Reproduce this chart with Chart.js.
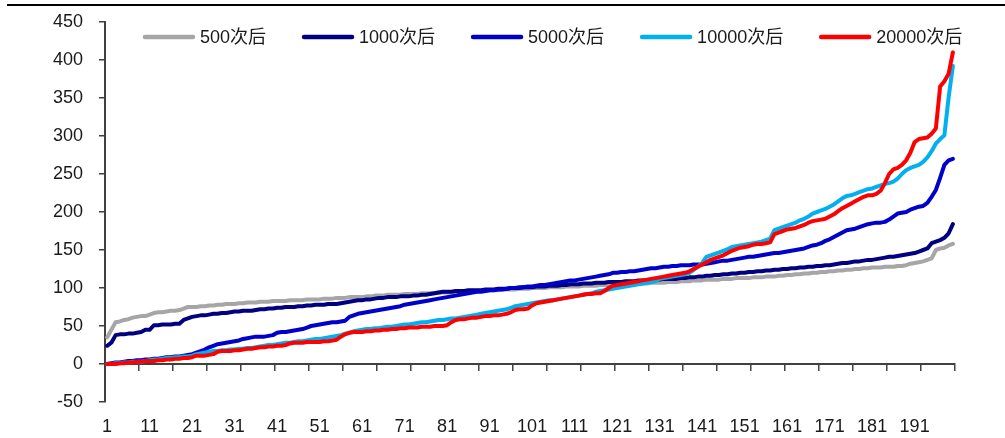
<!DOCTYPE html>
<html>
<head>
<meta charset="utf-8">
<script src="https://cdn.jsdelivr.net/npm/chart.js@4.4.1/dist/chart.umd.min.js"></script>
<style>
  html, body { margin: 0; padding: 0; background: #fff; }
  #wrap { position: relative; width: 1005px; height: 438px; }
  #topline { position: absolute; left: 7px; right: 0; top: 4px; height: 2px; background: #000; }
  canvas { display: block; }
</style>
</head>
<body>
<div id="wrap">
  <canvas id="chart" width="1005" height="438"></canvas>
  <div id="topline"></div>
</div>
<script>
  // series names
  const seriesNames = ['500次后', '1000次后', '5000次后', '10000次后', '20000次后'];
  const seriesColors = ['#A6A6A6', '#000080', '#0000CC', '#00B0F0', '#FF0000'];

  // x axis labels (sample index) and y range
  const xLabels = [1, 11, 21, 31, 41, 51, 61, 71, 81, 91, 101, 111, 121, 131, 141, 151, 161, 171, 181, 191];
  const yTicks = [-50, 0, 50, 100, 150, 200, 250, 300, 350, 400, 450];

  // values, 200 samples each, sorted ascending
  const after500 = [
    35, 45, 55, 56, 58, 59, 61, 62, 63, 63, 65, 67, 68, 68, 69, 70, 70, 71, 73, 75,
    75, 75, 76, 76, 77, 77, 78, 78, 79, 79, 79, 80, 80, 81, 81, 81, 82, 82, 82, 83,
    83, 83, 83, 84, 84, 84, 84, 85, 85, 85, 85, 86, 86, 86, 87, 87, 87, 88, 88, 88,
    88, 89, 89, 90, 90, 90, 91, 91, 91, 91, 92, 92, 92, 92, 93, 93, 93, 93, 94, 94,
    94, 94, 95, 95, 95, 95, 96, 96, 96, 96, 97, 97, 97, 98, 98, 98, 98, 99, 99, 99,
    100, 100, 100, 100, 101, 101, 101, 101, 102, 102, 102, 102, 103, 103, 103, 103, 104, 104, 104, 104,
    105, 105, 105, 105, 106, 106, 106, 106, 107, 107, 107, 107, 108, 108, 108, 109, 109, 109, 110, 110,
    110, 111, 111, 111, 111, 112, 112, 112, 113, 113, 113, 113, 114, 114, 114, 115, 115, 115, 116, 116,
    117, 117, 118, 118, 119, 119, 120, 120, 121, 121, 122, 122, 123, 123, 124, 124, 125, 125, 126, 126,
    127, 127, 127, 128, 128, 128, 129, 129, 130, 132, 133, 134, 135, 137, 139, 150, 152, 153, 156, 158
  ];
  const after1000 = [
    24, 28, 38, 39, 39, 40, 40, 41, 42, 45, 45, 51, 51, 52, 52, 52, 53, 53, 58, 60,
    62, 63, 64, 64, 65, 66, 66, 67, 67, 68, 69, 69, 70, 70, 70, 71, 72, 72, 73, 73,
    74, 74, 75, 75, 75, 76, 76, 77, 77, 78, 78, 78, 79, 79, 79, 80, 81, 82, 83, 84,
    84, 85, 85, 86, 87, 87, 88, 88, 88, 89, 89, 89, 90, 90, 91, 91, 92, 93, 94, 95,
    95, 95, 96, 96, 96, 97, 97, 97, 97, 98, 98, 98, 99, 99, 99, 100, 100, 100, 101, 101,
    101, 102, 102, 102, 103, 103, 103, 104, 104, 105, 105, 105, 106, 106, 106, 107, 107, 107, 108, 108,
    108, 108, 109, 109, 109, 110, 110, 110, 111, 111, 111, 112, 112, 112, 112, 113, 113, 114, 114, 115,
    115, 116, 116, 117, 117, 118, 118, 119, 119, 120, 120, 121, 121, 122, 122, 123, 123, 124, 124, 125,
    125, 126, 126, 127, 127, 128, 128, 129, 129, 130, 130, 131, 132, 133, 133, 134, 135, 135, 136, 137,
    137, 138, 139, 140, 141, 141, 142, 143, 144, 145, 146, 148, 150, 152, 159, 161, 163, 166, 172, 184
  ];
  const after5000 = [
    0, 1, 2, 2, 3, 4, 4, 5, 5, 6, 6, 7, 7, 8, 9, 9, 10, 10, 11, 12,
    13, 15, 17, 19, 22, 24, 26, 27, 28, 29, 30, 31, 33, 34, 35, 36, 36, 36, 37, 38,
    41, 42, 42, 43, 44, 45, 46, 48, 50, 51, 52, 53, 54, 55, 55, 56, 57, 62, 64, 66,
    67, 68, 69, 70, 71, 72, 73, 74, 75, 76, 78, 79, 80, 81, 82, 83, 84, 85, 86, 87,
    88, 89, 90, 91, 92, 93, 94, 95, 95, 96, 97, 97, 98, 98, 99, 100, 100, 101, 101, 102,
    102, 103, 104, 104, 105, 106, 107, 108, 109, 110, 110, 111, 112, 113, 114, 115, 116, 117, 118, 120,
    120, 121, 121, 122, 122, 123, 124, 125, 126, 126, 127, 128, 128, 129, 129, 130, 130, 130, 131, 131,
    131, 132, 133, 134, 135, 136, 136, 137, 138, 139, 140, 141, 141, 142, 143, 144, 145, 146, 146, 147,
    148, 149, 150, 151, 152, 154, 156, 157, 159, 162, 164, 167, 170, 173, 176, 177, 178, 180, 182, 184,
    185, 186, 186, 187, 190, 194, 198, 199, 200, 203, 205, 207, 208, 212, 220, 229, 245, 262, 268, 270
  ];
  const after10000 = [
    0, 0, 1, 1, 2, 2, 3, 3, 3, 4, 5, 6, 6, 7, 8, 8, 9, 9, 10, 10,
    11, 13, 14, 15, 16, 17, 17, 18, 18, 19, 19, 20, 20, 21, 21, 22, 23, 24, 25, 25,
    26, 27, 28, 28, 29, 30, 30, 31, 32, 33, 33, 34, 35, 36, 37, 38, 40, 41, 43, 44,
    45, 46, 46, 47, 47, 48, 49, 49, 50, 51, 52, 52, 53, 54, 55, 55, 56, 57, 58, 58,
    59, 60, 60, 61, 62, 63, 64, 65, 66, 67, 68, 69, 70, 71, 72, 74, 76, 77, 78, 79,
    80, 81, 82, 83, 84, 84, 85, 86, 87, 88, 89, 90, 91, 92, 93, 95, 96, 97, 98, 99,
    100, 101, 102, 103, 104, 105, 106, 107, 108, 109, 112, 113, 114, 115, 116, 117, 118, 120, 124, 128,
    133, 141, 143, 145, 147, 149, 151, 154, 155, 156, 157, 158, 159, 160, 161, 163, 165, 176, 178, 180,
    182, 184, 186, 189, 191, 194, 198, 200, 202, 204, 207, 210, 214, 218, 221, 222, 224, 226, 228, 230,
    231, 233, 235, 237, 238, 240, 244, 250, 255, 258, 260, 262, 266, 272, 280, 290, 296, 301, 351, 392
  ];
  const after20000 = [
    0, 0, 0, 1, 1, 2, 2, 3, 3, 4, 4, 4, 5, 5, 6, 6, 7, 7, 8, 8,
    9, 11, 11, 11, 12, 13, 16, 17, 17, 17, 18, 18, 19, 20, 20, 21, 22, 22, 23, 23,
    24, 24, 25, 27, 28, 28, 28, 29, 29, 29, 29, 30, 30, 31, 32, 36, 39, 41, 42, 42,
    42, 43, 43, 44, 44, 45, 45, 46, 46, 47, 47, 48, 48, 48, 49, 49, 49, 50, 50, 50,
    51, 55, 58, 59, 59, 60, 61, 61, 62, 63, 63, 64, 64, 65, 66, 68, 71, 72, 72, 73,
    77, 80, 81, 82, 83, 84, 85, 86, 87, 88, 89, 90, 91, 92, 92, 93, 93, 96, 100, 103,
    104, 105, 106, 107, 108, 109, 110, 111, 112, 113, 114, 115, 116, 117, 118, 119, 120, 122, 125, 128,
    131, 134, 137, 139, 141, 143, 146, 149, 151, 153, 154, 155, 157, 158, 158, 159, 160, 171, 173, 175,
    177, 178, 179, 181, 183, 186, 188, 189, 190, 191, 194, 197, 201, 205, 208, 211, 214, 217, 220, 222,
    222, 224, 228, 238, 250, 256, 258, 262, 268, 278, 292, 296, 297, 298, 303, 310, 365, 372, 382, 410
  ];

  const seriesValues = [after500, after1000, after5000, after10000, after20000];

  const FONT_FAMILY = '"Liberation Sans", Arial, "Noto Sans CJK SC", sans-serif';
  const FONT_SIZE = 18;
  const TEXT_COLOR = '#1a1a1a';
  const AXIS_COLOR = '#404040';

  // minor tick marks on the zero line, one every 8 samples
  const zeroTickPositions = Array.from({ length: 26 }, (_, k) => 0.5 + 8 * k);

  /**
   * Legend drawn inside the plot area, like the original
   */
  const insideLegend = {
    id: 'insideLegend',
    afterDraw(chart) {
      const ctx = chart.ctx;
      let x = 143;
      const y = 37;
      ctx.save();
      ctx.font = FONT_SIZE + 'px ' + FONT_FAMILY;
      ctx.textBaseline = 'middle';
      ctx.textAlign = 'left';
      chart.data.datasets.forEach(ds => {
        ctx.strokeStyle = ds.borderColor;
        ctx.lineWidth = 4.5;
        ctx.lineCap = 'round';
        ctx.beginPath();
        ctx.moveTo(x + 2, y);
        ctx.lineTo(x + 50, y);
        ctx.stroke();
        ctx.fillStyle = TEXT_COLOR;
        ctx.fillText(ds.label, x + 57, y + 1);
        x += 57 + ctx.measureText(ds.label).width + 36;
      });
      ctx.restore();
    }
  };

  function buildDatasets() {
    return seriesNames.map((name, i) => ({
      label: name,
      data: seriesValues[i].map((v, j) => ({ x: j + 1, y: v })),
      borderColor: seriesColors[i],
      backgroundColor: seriesColors[i],
      borderWidth: 4,
      pointRadius: 0,
      tension: 0,
      borderJoinStyle: 'round',
      borderCapStyle: 'round',
      order: seriesNames.length - i,
      xAxisID: 'x'
    }));
  }

  const ctx = document.getElementById('chart');
  new Chart(ctx, {
    type: 'line',
    data: { datasets: buildDatasets() },
    options: {
      responsive: false,
      animation: false,
      devicePixelRatio: 1,
      layout: { padding: { top: 22, right: 50, bottom: 0, left: 0 } },
      plugins: {
        legend: { display: false },
        tooltip: { enabled: false }
      },
      scales: {
        x: {
          type: 'linear',
          position: 'bottom',
          min: 0.5,
          max: 200.5,
          afterBuildTicks: s => { s.ticks = xLabels.map(v => ({ value: v })); },
          afterFit: s => { s.height = 36; },
          ticks: {
            autoSkip: false,
            maxRotation: 0,
            padding: 14,
            color: TEXT_COLOR,
            font: { family: FONT_FAMILY, size: FONT_SIZE },
            callback: v => String(v)
          },
          grid: { display: false, drawTicks: false },
          border: { display: false }
        },
        xZero: {
          type: 'linear',
          position: { y: 0 },
          min: 0.5,
          max: 200.5,
          afterBuildTicks: s => { s.ticks = zeroTickPositions.map(v => ({ value: v })); },
          ticks: { display: false },
          grid: { drawOnChartArea: false, drawTicks: true, tickLength: 6, color: AXIS_COLOR, lineWidth: 1.5 },
          border: { display: true, color: AXIS_COLOR, width: 2 }
        },
        y: {
          min: -50,
          max: 450,
          afterBuildTicks: s => { s.ticks = yTicks.map(v => ({ value: v })); },
          afterFit: s => {
            s.width = 105;
            s.paddingTop = 0;
            s.paddingBottom = 0;
          },
          ticks: {
            padding: 16,
            color: TEXT_COLOR,
            font: { family: FONT_FAMILY, size: FONT_SIZE }
          },
          grid: { drawOnChartArea: false, drawTicks: true, tickLength: 6, color: AXIS_COLOR, lineWidth: 1.5 },
          border: { display: true, color: AXIS_COLOR, width: 2 }
        }
      }
    },
    plugins: [insideLegend]
  });
</script>
</body>
</html>
